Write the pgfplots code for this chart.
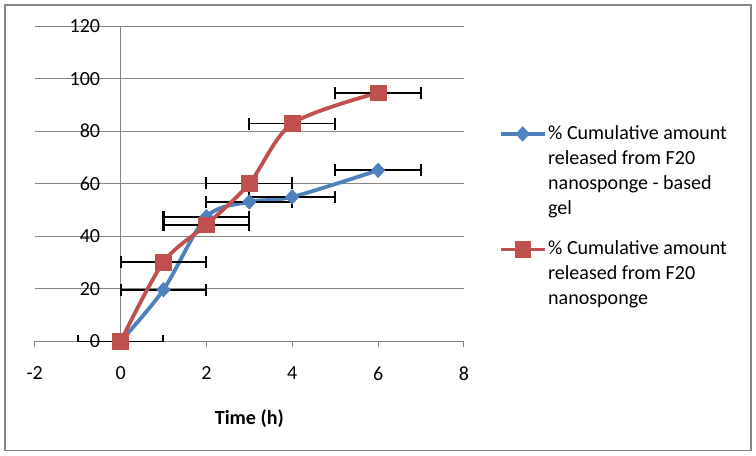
\documentclass[border=0pt]{standalone}
\usepackage{pgfplots}
\pgfplotsset{compat=1.18}
\usepackage{fontspec}
\setmainfont{Carlito}
\definecolor{serblue}{HTML}{4F81BD}
\definecolor{serred}{HTML}{C0504D}
\definecolor{gridgray}{HTML}{868686}

\pgfplotstableread{
x y ex
0 0 1
1 19.7 1
2 47.4 1
3 53.1 1
4 55.0 1
6 65.1 1
}\gel

\pgfplotstableread{
x y ex
0 0 1
1 30.2 1
2 44.4 1
3 60.1 1
4 82.9 1
6 94.6 1
}\sponge

\begin{document}
\begin{tikzpicture}
\begin{axis}[
  name=ax, scale only axis, width=214.3pt, height=157.5pt,
  xmin=-2, xmax=8, ymin=0, ymax=120,
  xtick={-2,0,...,8}, ytick={0,20,...,120},
  axis x line*=bottom, axis y line*=middle,
  hide obscured x ticks=false, hide obscured y ticks=false,
  axis line style={gridgray, line width=0.5pt},
  ymajorgrids, grid style={gridgray, line width=0.5pt},
  xtick align=outside, major tick length=3pt,
  ytick style={draw=none}, xtick style={gridgray, line width=0.5pt},
  tick label style={font=\fontsize{10}{12}\selectfont, text=black},
  /pgf/number format/assume math mode=true,
  yticklabel style={xshift=-6.7pt},
  xticklabel style={yshift=-6pt},
  xlabel={Time (h)},
  xlabel style={font=\fontsize{10}{12}\selectfont\bfseries, at={(axis description cs:0.5,0)}, anchor=center, yshift=-38.5pt},
  legend style={at={(axis description cs:1.081,0.694)}, anchor=north west, draw=none, fill=none,
    font=\fontsize{10}{12.5}\selectfont, row sep=9.5pt, inner sep=0pt,
    cells={anchor=north west}, nodes={align=left, inner sep=1pt}},
  legend image code/.code={\draw[yshift=-5.5pt, mark repeat=2, mark phase=2] plot coordinates {(0cm,0cm) (0.38cm,0cm) (0.76cm,0cm)};},
]
\addplot[serblue, line width=1.9pt, smooth, mark=diamond*, mark size=3.6pt,
  mark options={solid, xscale=1.25, line width=0.3pt},
  error bars/.cd, x dir=both, x explicit,
  error bar style={black, line width=0.9pt},
  error mark options={black, mark size=3pt, line width=1pt, rotate=90}]
  table[x=x, y=y, x error=ex] {\gel};
\addlegendentry{\% Cumulative amount\\released from F20\\nanosponge - based\\gel}
\addplot[serred, line width=1.9pt, smooth, mark=square*, mark size=3.9pt,
  mark options={solid, line width=0.3pt},
  error bars/.cd, x dir=both, x explicit,
  error bar style={black, line width=0.9pt},
  error mark options={black, mark size=3pt, line width=1pt, rotate=90}]
  table[x=x, y=y, x error=ex] {\sponge};
\addlegendentry{\% Cumulative amount\\released from F20\\nanosponge}
\end{axis}
\draw[gridgray, line width=0.8pt] ([xshift=-14.85pt,yshift=-54.5pt]ax.south west) rectangle ([xshift=143.35pt,yshift=10.5pt]ax.north east);
\path ([xshift=-17.35pt,yshift=-57pt]ax.south west) rectangle ([xshift=145.85pt,yshift=13pt]ax.north east);
\end{tikzpicture}
\end{document}
